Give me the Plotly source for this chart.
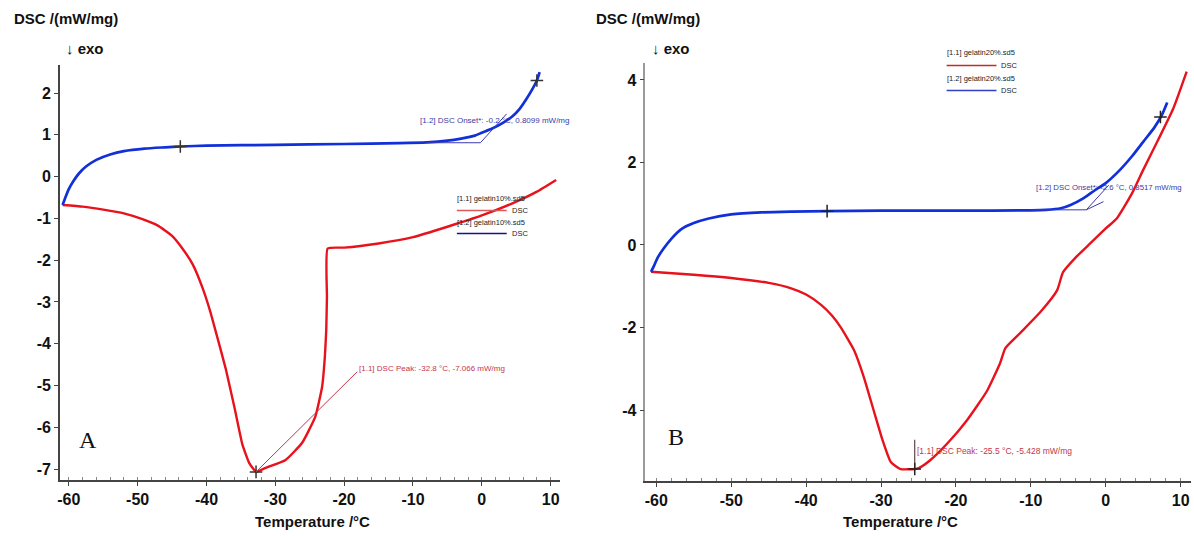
import plotly.graph_objects as go

W, H = 1194, 536

# ---- Panel A: gelatin 10 % ----
a_blue_t = [-60.9, -60.5, -60.0, -59.3, -58.5, -57.5, -56.0, -54.0, -52.0, -49.0, -46.0, -43.8,
            -40.0, -30.0, -20.0, -12.0, -8.0, -5.0, -3.0, -1.0, 0.0, 1.5, 3.0, 4.5, 5.5, 6.5, 7.3, 8.0, 8.4]
a_blue_v = [-0.68, -0.50, -0.30, -0.10, 0.08, 0.24, 0.40, 0.53, 0.61, 0.67, 0.70, 0.72,
            0.74, 0.76, 0.78, 0.80, 0.82, 0.86, 0.91, 0.98, 1.05, 1.15, 1.28, 1.45, 1.62, 1.86, 2.08, 2.30, 2.50]

a_red_t = [-60.9, -58.0, -55.0, -52.0, -49.3, -47.0, -45.0, -43.5, -42.0, -40.6, -39.5, -38.5, -37.2,
           -35.9, -34.8, -33.8, -32.8, -31.4, -28.5, -26.1, -24.2, -23.2, -22.8, -22.6, -22.5, -22.4,
           -20.0, -15.0, -10.0, -5.0, 0.0, 5.0, 8.0, 10.8]
a_red_v = [-0.68, -0.72, -0.79, -0.88, -1.02, -1.18, -1.42, -1.72, -2.10, -2.65, -3.20, -3.80, -4.60,
           -5.55, -6.40, -6.85, -7.066, -6.97, -6.78, -6.37, -5.75, -5.03, -4.31, -3.67, -2.88, -1.72,
           -1.70, -1.60, -1.45, -1.20, -0.93, -0.60, -0.36, -0.08]

a_peak = (-32.8, -7.066)
a_onset = (-0.2, 0.8099)

# ---- Panel B: gelatin 20 % ----
b_blue_t = [-60.7, -60.3, -59.8, -59.0, -58.0, -56.7, -55.0, -53.0, -50.0, -46.0, -42.0, -37.2,
            -30.0, -20.0, -10.0, -8.0, -6.0, -4.7, -3.0, -1.5, 0.0, 1.9, 3.5, 5.0, 6.5, 7.5, 8.2]
b_blue_v = [-0.65, -0.50, -0.30, -0.08, 0.15, 0.38, 0.53, 0.64, 0.74, 0.79, 0.81, 0.82,
            0.83, 0.83, 0.84, 0.85, 0.89, 0.97, 1.13, 1.32, 1.50, 1.82, 2.15, 2.50, 2.85, 3.15, 3.45]

b_red_t = [-60.7, -55.0, -50.0, -45.0, -42.0, -40.0, -38.0, -36.5, -35.4, -33.6, -32.3, -31.0, -29.8,
           -28.7, -27.4, -25.5, -24.9, -23.4, -21.1, -18.5, -15.8, -14.1, -13.4, -11.4, -8.7, -6.5,
           -5.7, -4.0, -2.0, 0.0, 1.5, 3.5, 5.0, 7.0, 9.0, 10.8]
b_red_v = [-0.65, -0.72, -0.80, -0.92, -1.05, -1.20, -1.45, -1.72, -1.99, -2.55, -3.20, -4.00, -4.73,
           -5.26, -5.43, -5.428, -5.40, -5.21, -4.80, -4.24, -3.52, -2.86, -2.50, -2.13, -1.62, -1.10,
           -0.66, -0.30, 0.05, 0.40, 0.65, 1.25, 1.82, 2.55, 3.30, 4.20]

b_peak = (-25.5, -5.428)
b_onset = (-2.6, 0.8517)

x_ticks = [-60, -50, -40, -30, -20, -10, 0, 10]
a_y_ticks = [2, 1, 0, -1, -2, -3, -4, -5, -6, -7]
b_y_ticks = [4, 2, 0, -2, -4]

RED = "#e8121c"
BLUE = "#1230d8"
LBL_RED = "#c4364a"
LBL_BLUE = "#3a3aa8"
SANS = "Liberation Sans Narrow, Arial Narrow, Liberation Sans, Arial, sans-serif"


def px(p):
    return p / W


def py(p):
    return 1 - p / H


fig = go.Figure()

# curves: red first, blue on top
fig.add_trace(go.Scatter(x=a_red_t, y=a_red_v, mode="lines",
                         line=dict(color=RED, width=2.4, shape="spline", smoothing=0.4),
                         xaxis="x", yaxis="y", showlegend=False))
fig.add_trace(go.Scatter(x=a_blue_t, y=a_blue_v, mode="lines",
                         line=dict(color=BLUE, width=2.7, shape="spline", smoothing=0.6),
                         xaxis="x", yaxis="y", showlegend=False))
fig.add_trace(go.Scatter(x=b_red_t, y=b_red_v, mode="lines",
                         line=dict(color=RED, width=2.4, shape="spline", smoothing=0.5),
                         xaxis="x2", yaxis="y2", showlegend=False))
fig.add_trace(go.Scatter(x=b_blue_t, y=b_blue_v, mode="lines",
                         line=dict(color=BLUE, width=2.7, shape="spline", smoothing=0.6),
                         xaxis="x2", yaxis="y2", showlegend=False))

# "+" markers on curves
fig.add_trace(go.Scatter(x=[-43.8, 8.0, a_peak[0]], y=[0.72, 2.30, a_peak[1]], mode="markers",
                         marker=dict(symbol="cross-thin", size=9, line=dict(color="#333333", width=1.5)),
                         xaxis="x", yaxis="y", showlegend=False))
fig.add_trace(go.Scatter(x=[-37.2, 7.3, b_peak[0]], y=[0.82, 3.10, b_peak[1]], mode="markers",
                         marker=dict(symbol="cross-thin", size=9, line=dict(color="#222222", width=1.5)),
                         xaxis="x2", yaxis="y2", showlegend=False))

shapes = []
annotations = []

# onset construction lines
for xr, yr, on, base_from, tan_to in [("x", "y", a_onset, -8.0, (3.6, 1.50)),
                                      ("x2", "y2", b_onset, -10.0, (0.4, 1.45))]:
    shapes.append(dict(type="line", xref=xr, yref=yr, x0=base_from, y0=on[1], x1=on[0], y1=on[1],
                       line=dict(color="#3a3ab0", width=1)))
    shapes.append(dict(type="line", xref=xr, yref=yr, x0=on[0], y0=on[1], x1=tan_to[0], y1=tan_to[1],
                       line=dict(color="#3a3ab0", width=1)))
shapes.append(dict(type="line", xref="x2", yref="y2", x0=b_onset[0], y0=b_onset[1], x1=-0.3, y1=1.05,
                   line=dict(color="#3a3ab0", width=1)))

# peak pointer lines
shapes.append(dict(type="line", xref="x", yref="y", x0=a_peak[0], y0=a_peak[1], x1=-18.1, y1=-4.67,
                   line=dict(color=LBL_RED, width=1)))
shapes.append(dict(type="line", xref="x2", yref="y2", x0=b_peak[0], y0=b_peak[1], x1=b_peak[0], y1=-4.72,
                   line=dict(color="#402020", width=1)))

# result labels
annotations += [
    dict(xref="x", yref="y", x=-18.1, y=-4.58, xanchor="left", yanchor="middle", showarrow=False,
         text=f"[1.1] DSC Peak: {a_peak[0]} °C, {a_peak[1]} mW/mg",
         font=dict(family=SANS, size=8, color=LBL_RED)),
    dict(xref="x", yref="y", x=-9.3, y=1.35, xanchor="left", yanchor="middle", showarrow=False,
         text=f"[1.2] DSC Onset*: {a_onset[0]} °C, {a_onset[1]} mW/mg",
         font=dict(family=SANS, size=8, color=LBL_BLUE)),
    dict(xref="x2", yref="y2", x=b_peak[0], y=-4.99, xanchor="left", yanchor="middle", showarrow=False,
         text=f"[1.1] DSC Peak: {b_peak[0]} °C, {b_peak[1]} mW/mg",
         font=dict(family=SANS, size=8.5, color=LBL_RED)),
    dict(xref="x2", yref="y2", x=-9.6, y=1.40, xanchor="left", yanchor="middle", showarrow=False,
         text=f"[1.2] DSC Onset*: {b_onset[0]} °C, {b_onset[1]} mW/mg",
         font=dict(family=SANS, size=7.8, color=LBL_BLUE)),
]


# small file legends
def file_legend(x0, y0, name, red_col, blue_col, dy):
    for i, (tag, col) in enumerate([("[1.1]", red_col), ("[1.2]", blue_col)]):
        yt = y0 + i * 2 * dy
        yl = yt + dy
        annotations.append(dict(xref="paper", yref="paper", x=px(x0), y=py(yt), xanchor="left", yanchor="middle",
                                showarrow=False, text=f"{tag} {name}",
                                font=dict(family=SANS, size=7.5, color="#222222")))
        shapes.append(dict(type="line", xref="paper", yref="paper", x0=px(x0 + 2), y0=py(yl), x1=px(x0 + 52),
                           y1=py(yl), line=dict(color=col, width=1.6)))
        annotations.append(dict(xref="paper", yref="paper", x=px(x0 + 55), y=py(yl), xanchor="left", yanchor="middle",
                                showarrow=False, text="DSC", font=dict(family=SANS, size=7.5, color="#222222")))


file_legend(453, 199, "gelatin10%.sd5", "#d85a5a", "#14148a", 11.5)
file_legend(944, 53, "gelatin20%.sd5", "#c42a2a", "#3040c0", 12.5)

# axis titles and panel letters
TITLE_FONT = dict(family=SANS, size=15, color="#111111", weight="bold")
for xc in (310, 900):
    annotations.append(dict(xref="paper", yref="paper", x=px(xc), y=py(521), xanchor="center", yanchor="middle",
                            showarrow=False, text="Temperature /°C", font=TITLE_FONT))
for xl, xe in [(9, 61), (592, 649)]:
    annotations.append(dict(xref="paper", yref="paper", x=px(xl), y=py(19), xanchor="left", yanchor="middle",
                            showarrow=False, text="DSC /(mW/mg)", font=TITLE_FONT))
    annotations.append(dict(xref="paper", yref="paper", x=px(xe), y=py(49), xanchor="left", yanchor="middle",
                            showarrow=False, text="↓ exo", font=TITLE_FONT))
for letter, xl, yl in [("A", 85, 440), ("B", 675, 437)]:
    annotations.append(dict(xref="paper", yref="paper", x=px(xl), y=py(yl), xanchor="center", yanchor="middle",
                            showarrow=False, text=letter,
                            font=dict(family="Liberation Serif, DejaVu Serif, serif", size=24, color="#111111")))

TICK_FONT = dict(family=SANS, size=16, color="#111111", weight="bold")


def x_axis(domain, rng, anchor):
    return dict(domain=domain, range=rng, anchor=anchor, tickmode="array", tickvals=x_ticks,
                ticktext=[str(t) for t in x_ticks], ticks="outside", ticklen=4, tickcolor="#444444",
                ticklabelstandoff=0,
                showline=True, linecolor="#444444", linewidth=1.5, showgrid=False, zeroline=False,
                tickfont=TICK_FONT, minor=dict(dtick=2, tick0=-60, ticks="inside", ticklen=3,
                                               tickcolor="#888888", showgrid=False))


def y_axis(domain, rng, anchor, ticks, linecol):
    return dict(domain=domain, range=rng, anchor=anchor, tickmode="array", tickvals=ticks,
                ticktext=[str(t) for t in ticks], ticks="outside", ticklen=4, tickcolor="#444444",
                showline=True, linecolor=linecol, linewidth=1.5, showgrid=False, zeroline=False,
                tickfont=TICK_FONT)


fig.update_layout(
    width=W, height=H, margin=dict(l=0, r=0, t=0, b=0),
    paper_bgcolor="white", plot_bgcolor="white", showlegend=False,
    xaxis=x_axis([px(57), px(558)], [-61.3, 11.3], "y"),
    yaxis=y_axis([py(480), py(65)], [-7.26, 2.67], "x", a_y_ticks, "#444444"),
    xaxis2=x_axis([px(644), px(1191)], [-61.46, 11.38], "y2"),
    yaxis2=y_axis([py(481), py(63)], [-5.72, 4.41], "x2", b_y_ticks, "#9a9a9a"),
    shapes=shapes, annotations=annotations,
)

fig.write_html("out.html")
